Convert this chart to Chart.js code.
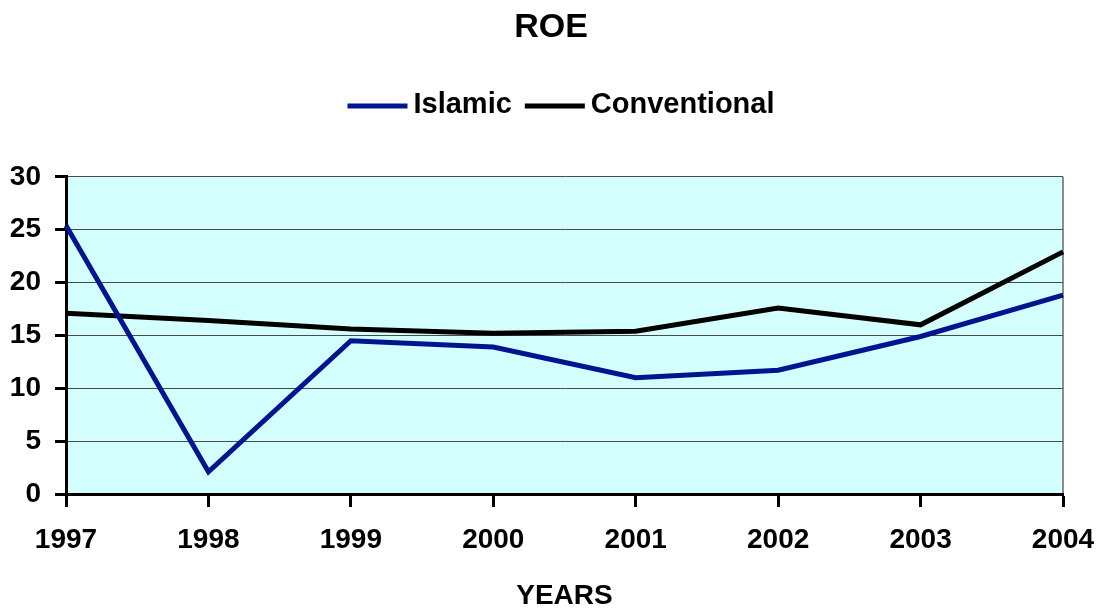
<!DOCTYPE html>
<html>
<head>
<meta charset="utf-8">
<script src="https://cdn.jsdelivr.net/npm/chart.js@4/dist/chart.umd.min.js"></script>
<style>
  html, body { margin: 0; padding: 0; background: #ffffff; }
  #wrap { width: 1102px; height: 614px; position: relative; }
</style>
</head>
<body>
<div id="wrap"><canvas id="roe"></canvas></div>
<script>
// Return on equity by year
const years = ['1997', '1998', '1999', '2000', '2001', '2002', '2003', '2004'];
const islamic = [25.4, 2.1, 14.5, 13.9, 11.0, 11.7, 14.9, 18.8];
const conventional = [17.1, 16.4, 15.6, 15.2, 15.4, 17.6, 16.0, 22.9];
const yTicks = [0, 5, 10, 15, 20, 25, 30];

const FONT = '"Liberation Sans", Arial, sans-serif';

// light cyan plot background and grey right border
const plotFrame = {
  id: 'plotFrame',
  beforeDraw(chart) {
    const { ctx, chartArea: a } = chart;
    ctx.save();
    ctx.fillStyle = '#D4FFFF';
    ctx.fillRect(a.left, a.top, a.right - a.left, a.bottom - a.top);
    ctx.strokeStyle = '#8C8C8C';
    ctx.lineWidth = 2;
    ctx.beginPath();
    ctx.moveTo(a.right, a.top);
    ctx.lineTo(a.right, a.bottom);
    ctx.stroke();
    ctx.restore();
  }
};

// compact legend row: line swatch, small gap, bold label
const lineLegend = {
  id: 'lineLegend',
  afterDraw(chart, args, opts) {
    const { ctx } = chart;
    const sets = chart.data.datasets;
    ctx.save();
    ctx.font = 'bold ' + opts.size + 'px ' + FONT;
    ctx.textBaseline = 'middle';
    ctx.textAlign = 'left';
    const widths = sets.map(ds => opts.swatch + opts.gap + ctx.measureText(ds.label).width);
    const total = widths.reduce((s, w) => s + w, 0) + opts.spacing * (sets.length - 1);
    let x = opts.centerX - total / 2;
    sets.forEach((ds, i) => {
      ctx.strokeStyle = ds.borderColor;
      ctx.lineWidth = 5;
      ctx.beginPath();
      ctx.moveTo(x, opts.y + 1);
      ctx.lineTo(x + opts.swatch, opts.y + 1);
      ctx.stroke();
      ctx.fillStyle = '#000000';
      ctx.fillText(ds.label, x + opts.swatch + opts.gap, opts.y);
      x += widths[i] + opts.spacing;
    });
    ctx.restore();
  }
};

new Chart(document.getElementById('roe'), {
  type: 'line',
  data: {
    labels: years,
    datasets: [
      {
        label: 'Islamic',
        data: islamic,
        borderColor: '#001490',
        backgroundColor: '#001490',
        borderWidth: 5,
        pointRadius: 0,
        tension: 0
      },
      {
        label: 'Conventional',
        data: conventional,
        borderColor: '#000000',
        backgroundColor: '#000000',
        borderWidth: 5,
        pointRadius: 0,
        tension: 0
      }
    ]
  },
  options: {
    responsive: true,
    maintainAspectRatio: false,
    animation: false,
    layout: { padding: { left: 0, right: 0, top: 0, bottom: 0 } },
    plugins: {
      title: {
        display: true,
        text: 'ROE',
        color: '#000000',
        font: { family: FONT, size: 34, weight: 'bold' },
        padding: { top: 7, bottom: 129 }
      },
      legend: { display: false },
      lineLegend: { size: 29, swatch: 60, gap: 6, spacing: 13, centerX: 561, y: 105 },
      tooltip: { enabled: false }
    },
    scales: {
      x: {
        type: 'category',
        offset: false,
        afterFit(scale) {
          scale.height = 120;
          scale.paddingLeft = 0;
          scale.paddingRight = 39;
        },
        border: { display: true, color: '#000000', width: 3 },
        grid: {
          display: true,
          drawOnChartArea: false,
          drawTicks: true,
          tickLength: 13,
          tickWidth: 3,
          tickColor: '#000000'
        },
        ticks: {
          color: '#000000',
          font: { family: FONT, size: 28, weight: 'bold' },
          padding: 16,
          maxRotation: 0,
          autoSkip: false
        },
        title: {
          display: true,
          text: 'YEARS',
          color: '#000000',
          font: { family: FONT, size: 28, weight: 'bold' },
          padding: { top: 0, bottom: 1 }
        }
      },
      y: {
        min: 0,
        max: 30,
        afterFit(scale) { scale.width = 66; },
        afterBuildTicks(scale) { scale.ticks = yTicks.map(v => ({ value: v })); },
        border: { display: true, color: '#000000', width: 3 },
        grid: {
          display: true,
          color: '#4A4A4A',
          lineWidth: 1,
          drawTicks: true,
          tickLength: 11,
          tickWidth: 3,
          tickColor: '#000000'
        },
        ticks: {
          color: '#000000',
          font: { family: FONT, size: 28, weight: 'bold' },
          padding: 14
        }
      }
    }
  },
  plugins: [plotFrame, lineLegend]
});
</script>
</body>
</html>
